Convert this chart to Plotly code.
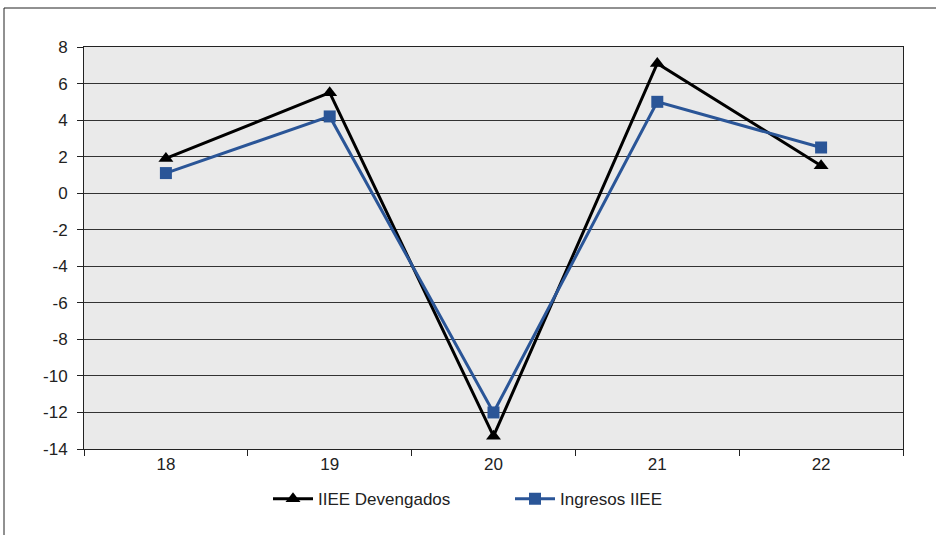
import plotly.graph_objects as go

# Year labels (two-digit) and the two series
years = ["18", "19", "20", "21", "22"]
iiee_devengados = [1.9, 5.5, -13.3, 7.1, 1.5]
ingresos_iiee = [1.1, 4.2, -12.0, 5.0, 2.5]
y_ticks = [8, 6, 4, 2, 0, -2, -4, -6, -8, -10, -12, -14]

W, H = 936, 535
L, R, T, B = 84, 33, 47, 86
pw, ph = W - L - R, H - T - B

font = dict(family="Liberation Sans, Arial, sans-serif", size=17, color="#222222")

fig = go.Figure()
fig.add_trace(go.Scatter(
    x=years, y=iiee_devengados, name="IIEE Devengados",
    mode="lines+markers",
    line=dict(color="#000000", width=3),
    marker=dict(symbol="triangle-up", size=13, color="#000000"),
))
fig.add_trace(go.Scatter(
    x=years, y=ingresos_iiee, name="Ingresos IIEE",
    mode="lines+markers",
    line=dict(color="#2a5597", width=3),
    marker=dict(symbol="square", size=12, color="#2a5597"),
))

# Outer frame (left and top edges visible, the rest runs off the page)
fig.add_shape(type="rect", xref="paper", yref="paper",
              x0=(4 - L) / pw, x1=(W + 10 - L) / pw,
              y0=(H - B - (H + 10)) / ph, y1=(H - B - 8) / ph,
              line=dict(color="#222222", width=1), fillcolor="rgba(0,0,0,0)",
              layer="below")

fig.update_layout(
    width=W, height=H,
    margin=dict(l=L, r=R, t=T, b=B),
    paper_bgcolor="#ffffff",
    plot_bgcolor="#eaeaea",
    font=font,
    showlegend=True,
    legend=dict(orientation="h", x=(268 - L) / pw, xanchor="left", y=-0.08, yanchor="top",
                font=dict(size=17, color="#222222"), itemwidth=40,
                entrywidth=187, entrywidthmode="pixels",
                bgcolor="rgba(0,0,0,0)"),
    xaxis=dict(
        type="category", tickson="boundaries", ticks="outside", ticklen=6,
        tickcolor="#222222", showgrid=False, showline=True, linecolor="#222222",
        linewidth=1, mirror=True, range=[-0.5, 4.5], zeroline=False,
        tickfont=dict(size=17),
    ),
    yaxis=dict(
        range=[-14, 8], tickvals=y_ticks, ticktext=[str(v) for v in y_ticks],
        ticks="outside", ticklen=6, tickcolor="#222222",
        showgrid=True, gridcolor="#333333", gridwidth=1,
        showline=True, linecolor="#222222", linewidth=1, mirror=True,
        zeroline=False, ticklabelstandoff=6, tickfont=dict(size=17),
    ),
)

fig.write_html("out.html")
